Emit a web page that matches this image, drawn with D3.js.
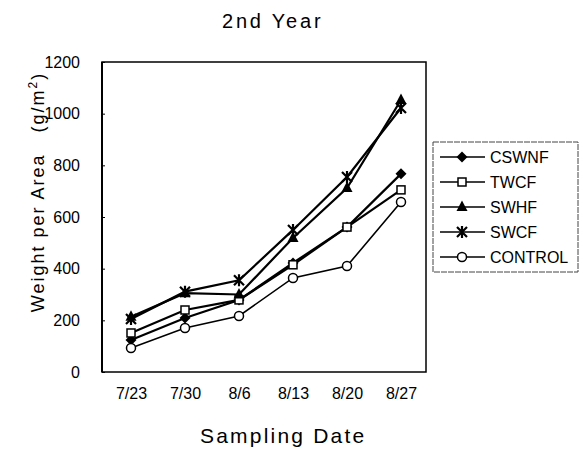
<!DOCTYPE html>
<html>
<head>
<meta charset="utf-8">
<script src="https://cdn.jsdelivr.net/npm/d3@7"></script>
<style>
  html, body { margin: 0; padding: 0; background: #fff; }
  svg { display: block; font-family: "Liberation Sans", Arial, Helvetica, sans-serif; }
</style>
</head>
<body>
<svg id="chart" width="588" height="461"></svg>
<script>
// Sampling dates (x categories)
const dates = ["7/23", "7/30", "8/6", "8/13", "8/20", "8/27"];
// Y-axis tick values
const yTicks = [0, 200, 400, 600, 800, 1000, 1200];
// Series names (legend order)
const seriesNames = ["CSWNF", "TWCF", "SWHF", "SWCF", "CONTROL"];
// Weight per area (g/m^2) per series
const cswnf   = [124, 209, 279, 422, 561, 767];
const twcf    = [151, 240, 279, 415, 561, 705];
const swhf    = [214, 305, 300, 519, 712, 1053];
const swcf    = [205, 311, 355, 550, 755, 1022];
const control = [93, 170, 217, 364, 410, 658];

const seriesValues = [cswnf, twcf, swhf, swcf, control];
const markerTypes = ["diamond", "square", "triangle", "star", "circle"];

const svg = d3.select("#chart");

// Plot frame
const frame = { left: 102, right: 426, top: 62, bottom: 372 };

const x = d3.scalePoint().domain(dates).range([104, 428]).padding(0.5);
const y = d3.scaleLinear().domain([0, 1200]).range([frame.bottom, frame.top]);

// Frame box
svg.append("rect")
  .attr("x", frame.left).attr("y", frame.top)
  .attr("width", frame.right - frame.left).attr("height", frame.bottom - frame.top)
  .attr("fill", "none").attr("stroke", "#000").attr("stroke-width", 1.5);
svg.append("line")
  .attr("x1", frame.left).attr("x2", frame.left)
  .attr("y1", frame.top).attr("y2", frame.bottom)
  .attr("stroke", "#000").attr("stroke-width", 2);

// Y axis with short inward ticks
const yAxis = d3.axisLeft(y).tickValues(yTicks).tickSize(-3).tickPadding(22)
  .tickFormat(d3.format("d"));
const yg = svg.append("g").attr("transform", `translate(${frame.left},0)`).call(yAxis);
yg.select(".domain").remove();
yg.selectAll("line").attr("stroke", "#000").attr("stroke-width", 1);
yg.selectAll("text").attr("font-size", 16).attr("fill", "#000")
  .attr("font-family", "Liberation Sans, Arial, sans-serif");

// X axis labels
const xAxis = d3.axisBottom(x).tickSize(0).tickPadding(16);
const xg = svg.append("g").attr("transform", `translate(0,${frame.bottom})`).call(xAxis);
xg.select(".domain").remove();
xg.selectAll("text").attr("font-size", 16).attr("fill", "#000")
  .attr("font-family", "Liberation Sans, Arial, sans-serif");

// Title
svg.append("text")
  .attr("x", 222).attr("y", 28)
  .attr("font-size", 20).attr("letter-spacing", 2.8)
  .text("2nd Year");

// X-axis title
svg.append("text")
  .attr("x", 200).attr("y", 443)
  .attr("font-size", 21).attr("letter-spacing", 2.2)
  .text("Sampling Date");

// Y-axis title
const yt = svg.append("text")
  .attr("transform", "translate(44,192) rotate(-90)")
  .attr("text-anchor", "middle")
  .attr("font-size", 18).attr("letter-spacing", 2);
yt.append("tspan").text("Weight per Area\u00a0\u00a0\u00a0(g/m");
yt.append("tspan").attr("dy", -7).attr("font-size", 12).text("2");
yt.append("tspan").attr("dy", 7).text(")");

// Marker drawing helper
function drawMarker(g, type, cx, cy) {
  if (type === "diamond") {
    g.append("path").attr("d", `M${cx},${cy-5.5}L${cx+5.5},${cy}L${cx},${cy+5.5}L${cx-5.5},${cy}Z`)
      .attr("fill", "#000");
  } else if (type === "square") {
    g.append("rect").attr("x", cx - 4).attr("y", cy - 4).attr("width", 8).attr("height", 8)
      .attr("fill", "#fff").attr("stroke", "#000").attr("stroke-width", 1.5);
  } else if (type === "triangle") {
    g.append("path").attr("d", `M${cx},${cy-6.5}L${cx+5.5},${cy+4}L${cx-5.5},${cy+4}Z`)
      .attr("fill", "#000");
  } else if (type === "star") {
    const r = 5;
    g.append("path")
      .attr("d", `M${cx-r},${cy-r}L${cx+r},${cy+r}M${cx-r},${cy+r}L${cx+r},${cy-r}M${cx},${cy-r-1}L${cx},${cy+r+1}`)
      .attr("stroke", "#000").attr("stroke-width", 2.2);
  } else if (type === "circle") {
    g.append("circle").attr("cx", cx).attr("cy", cy).attr("r", 4.5)
      .attr("fill", "#fff").attr("stroke", "#000").attr("stroke-width", 1.5);
  }
}

const line = d3.line().x((d, i) => x(dates[i])).y(d => y(d));

// Lines then markers per series
seriesValues.forEach((vals, si) => {
  const g = svg.append("g");
  g.append("path").datum(vals).attr("d", line)
    .attr("fill", "none").attr("stroke", "#000")
    .attr("stroke-width", markerTypes[si] === "circle" ? 1.6 : 2.2);
  vals.forEach((v, i) => drawMarker(g, markerTypes[si], x(dates[i]), y(v)));
});

// Legend
const legend = svg.append("g");
legend.append("rect")
  .attr("x", 433).attr("y", 142).attr("width", 145).attr("height", 130)
  .attr("fill", "#fff").attr("stroke", "#444").attr("stroke-width", 1)
  .attr("stroke-dasharray", "6,1");
seriesNames.forEach((name, i) => {
  const ly = 157 + i * 25;
  legend.append("line").attr("x1", 440).attr("x2", 485).attr("y1", ly).attr("y2", ly)
    .attr("stroke", "#000").attr("stroke-width", 1.5);
  drawMarker(legend, markerTypes[i], 462, ly);
  legend.append("text").attr("x", 490).attr("y", ly + 6)
    .attr("font-size", 16).text(name);
});
</script>
</body>
</html>
